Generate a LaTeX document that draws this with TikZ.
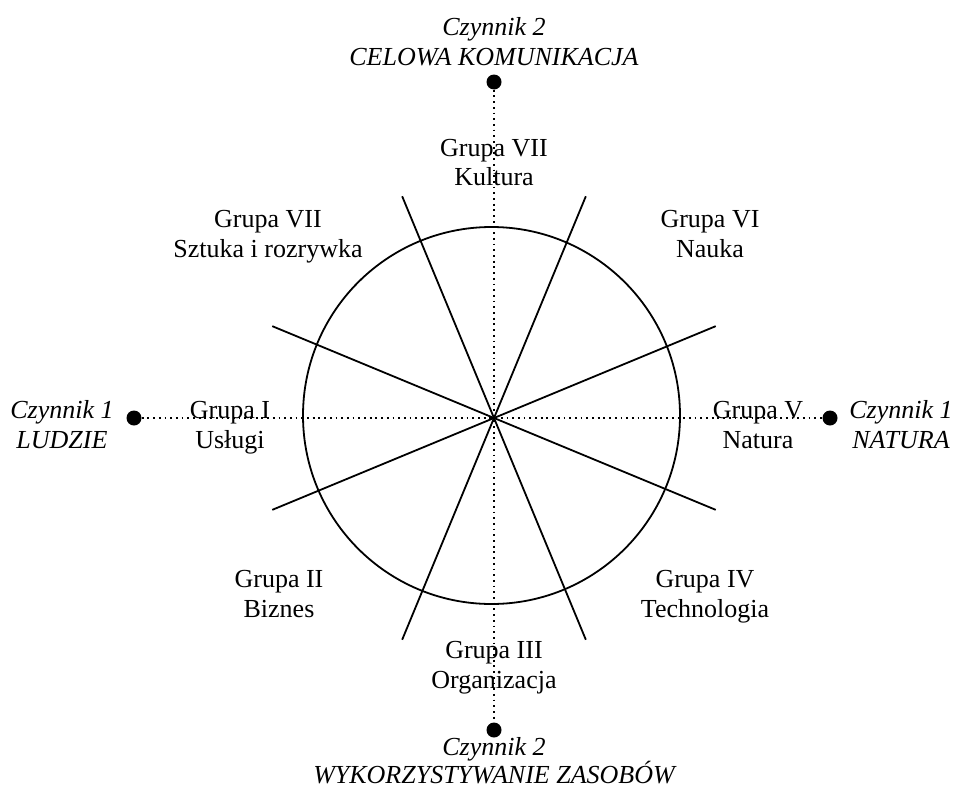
\documentclass[tikz,border=0pt]{standalone}
\usepackage{fontspec}
\setmainfont{Liberation Serif}
\usetikzlibrary{calc}
\begin{document}
\begin{tikzpicture}[x=1pt,y=-1pt,
  lbl/.style={font=\fontsize{26}{29.5}\selectfont, align=center, anchor=base, inner sep=0pt},
  fac/.style={lbl, font=\fontsize{26}{29.5}\selectfont\itshape},
  enddot/.style={circle, fill=black, inner sep=0pt, minimum size=15pt},
  axisline/.style={line width=1.8pt, dash pattern=on 1.8pt off 3.9pt},
  spoke/.style={line width=1.8pt},
  ring/.style={draw, circle, line width=1.8pt, inner sep=0pt, minimum size=377pt}]
\useasboundingbox (0,0) rectangle (955,787);
\coordinate (c) at (494,418);
% circle
\node[ring] (rim) at (491.5,415.5) {};
% spokes
\foreach \a/\n in {22.5/a, 67.5/b, 112.5/d, 157.5/e}{
  \coordinate (s\n1) at ($(c)+(\a:240)$);
  \coordinate (s\n2) at ($(c)+(\a+180:240)$);
  \draw[spoke] (s\n1) -- (s\n2);
}
% axis end dots
\node[enddot] (dT) at (494,82) {};
\node[enddot] (dB) at (494,730) {};
\node[enddot] (dL) at (134,418) {};
\node[enddot] (dR) at (830,418) {};
\draw[axisline] (dL) -- (dR);
\draw[axisline] (dT) -- (dB);
% factor labels (anchor = baseline of last line)
\node[fac] (fT) at (494,65) {Czynnik 2\\CELOWA KOMUNIKACJA};
\node[fac, font=\fontsize{26}{28}\selectfont\itshape] (fB) at (494,783) {Czynnik 2\\WYKORZYSTYWANIE ZASOBÓW};
\node[fac] (fL) at (62,448) {Czynnik 1\\LUDZIE};
\node[fac] (fR) at (901,448) {Czynnik 1\\NATURA};
% group labels
\node[lbl] (g7k) at (494,185.5) {Grupa VII\\Kultura};
\node[lbl] (g7s) at (268,257) {Grupa VII\\Sztuka i rozrywka};
\node[lbl] (g6) at (710,257) {Grupa VI\\Nauka};
\node[lbl] (g1) at (230,448) {Grupa I\\Usługi};
\node[lbl] (g5) at (758,448) {Grupa V\\Natura};
\node[lbl] (g2) at (279,617) {Grupa II\\Biznes};
\node[lbl] (g3) at (494,688) {Grupa III\\Organizacja};
\node[lbl] (g4) at (705,617) {Grupa IV\\Technologia};
\end{tikzpicture}
\end{document}
